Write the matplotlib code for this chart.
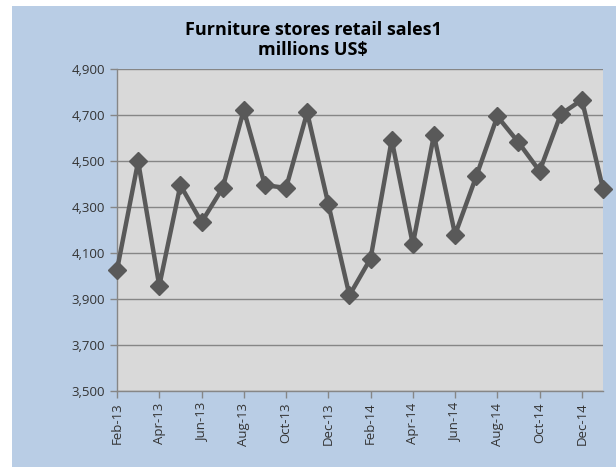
import matplotlib.pyplot as plt
from matplotlib.patches import Rectangle
from matplotlib.ticker import FuncFormatter

# monthly furniture store sales, Feb-13 .. Jan-15
months = ["Feb-13", "Mar-13", "Apr-13", "May-13", "Jun-13", "Jul-13", "Aug-13", "Sep-13",
          "Oct-13", "Nov-13", "Dec-13", "Jan-14", "Feb-14", "Mar-14", "Apr-14", "May-14",
          "Jun-14", "Jul-14", "Aug-14", "Sep-14", "Oct-14", "Nov-14", "Dec-14", "Jan-15"]
sales = [4026, 4498, 3957, 4395, 4234, 4383, 4722, 4395,
         4383, 4711, 4313, 3916, 4076, 4592, 4138, 4613,
         4180, 4433, 4694, 4581, 4456, 4703, 4766, 4379]
yticks = [3500, 3700, 3900, 4100, 4300, 4500, 4700, 4900]

plt.rcParams['font.family'] = ['Open Sans', 'DejaVu Sans']

W, H = 616, 470
fig = plt.figure(figsize=(W / 100, H / 100), dpi=100)
fig.patch.set_facecolor("white")
# blue chart area
fig.patches.append(Rectangle((12 / W, 1 - 467 / H), (W - 12) / W, (467 - 6) / H,
                             transform=fig.transFigure, facecolor="#B9CDE5",
                             edgecolor="none", zorder=-1))

ax = fig.add_axes([117 / W, 1 - 391 / H, (603 - 117) / W, (391 - 69) / H])
ax.set_facecolor("#D9D9D9")

x = list(range(len(months)))
ax.plot(x, sales, color="#595959", lw=3.2, marker="D", markersize=9.5,
        markerfacecolor="#595959", markeredgecolor="#595959", clip_on=False, zorder=3)

ax.set_xlim(0, len(months) - 1)
ax.set_ylim(3500, 4900)
ax.set_yticks(yticks)
ax.yaxis.set_major_formatter(FuncFormatter(lambda v, p: f"{int(v):,}"))
ax.set_xticks(x[::2])
ax.set_xticklabels(months[::2], rotation=90)
ax.tick_params(axis="both", labelsize=9.5, colors="#868686", labelcolor="#333333",
               length=5, width=1, direction="out")
ax.grid(axis="y", color="#868686", lw=1)
ax.set_axisbelow(True)

for side in ["top", "right"]:
    ax.spines[side].set_visible(False)
for side in ["left", "bottom"]:
    ax.spines[side].set_color("#868686")
    ax.spines[side].set_linewidth(1)

fig.text(313 / W, 1 - 40 / H, "Furniture stores retail sales1\nmillions US$",
         ha="center", va="center", fontsize=13, fontweight="bold",
         color="black", linespacing=1.1)

fig.savefig("out.png", dpi=100)
